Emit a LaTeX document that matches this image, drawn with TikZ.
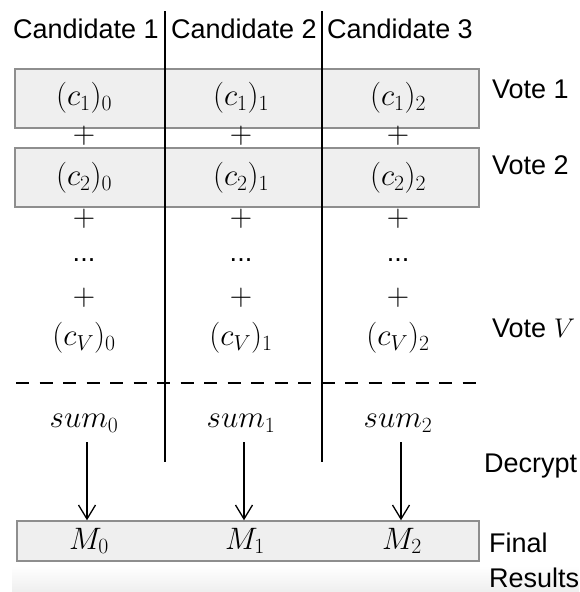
\RequirePackage{fix-cm}
\documentclass[tikz,border=0pt]{standalone}
\usepackage{fontspec}
\setmainfont{Liberation Sans}
\usetikzlibrary{arrows.meta}
\definecolor{cellfill}{HTML}{EFEFEF}
\definecolor{cellline}{HTML}{8E8E8E}
\definecolor{bandfill}{HTML}{EEEEEE}
\tikzset{
  lbl/.style={font=\fontsize{27}{31}\selectfont, inner sep=0pt},
  mth/.style={font=\fontsize{31}{35}\selectfont, inner sep=0pt},
  rowbox/.style={draw=cellline, fill=cellfill, line width=1.5pt, inner sep=0pt},
  divider/.style={line width=1.4pt},
  sumline/.style={line width=1.4pt, dash pattern=on 13pt off 10.5pt},
  decarrow/.style={line width=1.3pt, -{Straight Barb[length=14pt,width=17pt,line width=1.3pt]}},
}
\begin{document}
\begin{tikzpicture}[x=1pt,y=-1pt]
\useasboundingbox (0,0) rectangle (579,592);
% faint band along the bottom edge
\shade[top color=white, bottom color=bandfill] (12,566) rectangle (579,592);

% vote rows
\node[rowbox, minimum width=464pt, minimum height=59pt] (row1) at (247,98.5) {};
\node[rowbox, minimum width=464pt, minimum height=59pt] (row2) at (247,177.5) {};
\node[rowbox, minimum width=462pt, minimum height=40pt] (fin) at (248,541) {};

% column dividers
\coordinate (d1t) at (165,11);
\coordinate (d1b) at (165,462);
\coordinate (d2t) at (322,11);
\coordinate (d2b) at (322,462);
\draw[divider] (d1t) -- (d1b);
\draw[divider] (d2t) -- (d2b);

% headers
\node[lbl, anchor=east] (h1) at (159,29) {Candidate 1};
\node[lbl] (h2) at (244,29) {Candidate 2};
\node[lbl] (h3) at (400,29) {Candidate 3};

% column entries
\foreach \i/\x in {0/84,1/241,2/398}{
  \node[mth] (a\i) at (\x,98) {$(c_1)_{\i}$};
  \node[mth] (p\i) at (\x,136) {$+$};
  \node[mth] (b\i) at (\x,178) {$(c_2)_{\i}$};
  \node[mth] (q\i) at (\x,219) {$+$};
  \node[lbl] (e\i) at (\x,260) {...};
  \node[mth] (r\i) at (\x,298) {$+$};
  \node[mth] (v\i) at (\x,338) {$(c_V)_{\i}$};
  \node[mth] (s\i) at (\x,423) {$sum_{\i}$};
}
\node[mth] (m0) at (89,541) {$M_0$};
\node[mth] (m1) at (245,541) {$M_1$};
\node[mth] (m2) at (402,541) {$M_2$};

% separator before the sums
\coordinate (dl) at (16,383);
\coordinate (dr) at (479,383);
\draw[sumline] (dl) -- (dr);

% decryption arrows
\foreach \x/\i in {87/0,244/1,401/2}{
  \coordinate (t\i) at (\x,442);
  \draw[decarrow] (t\i) -- (t\i |- fin.north);
}

% row labels
\node[lbl, anchor=west] (l1) at (492,89) {Vote 1};
\node[lbl, anchor=west] (l2) at (492,165) {Vote 2};
\node[lbl, anchor=west] (lv) at (492,328) {Vote $V$};
\node[lbl, anchor=west] (ld) at (484,466) {Decrypt};
\node[lbl, anchor=west] (lf) at (489,543) {Final};
\node[lbl, anchor=west] (lr) at (489,578) {Results};
\end{tikzpicture}
\end{document}
